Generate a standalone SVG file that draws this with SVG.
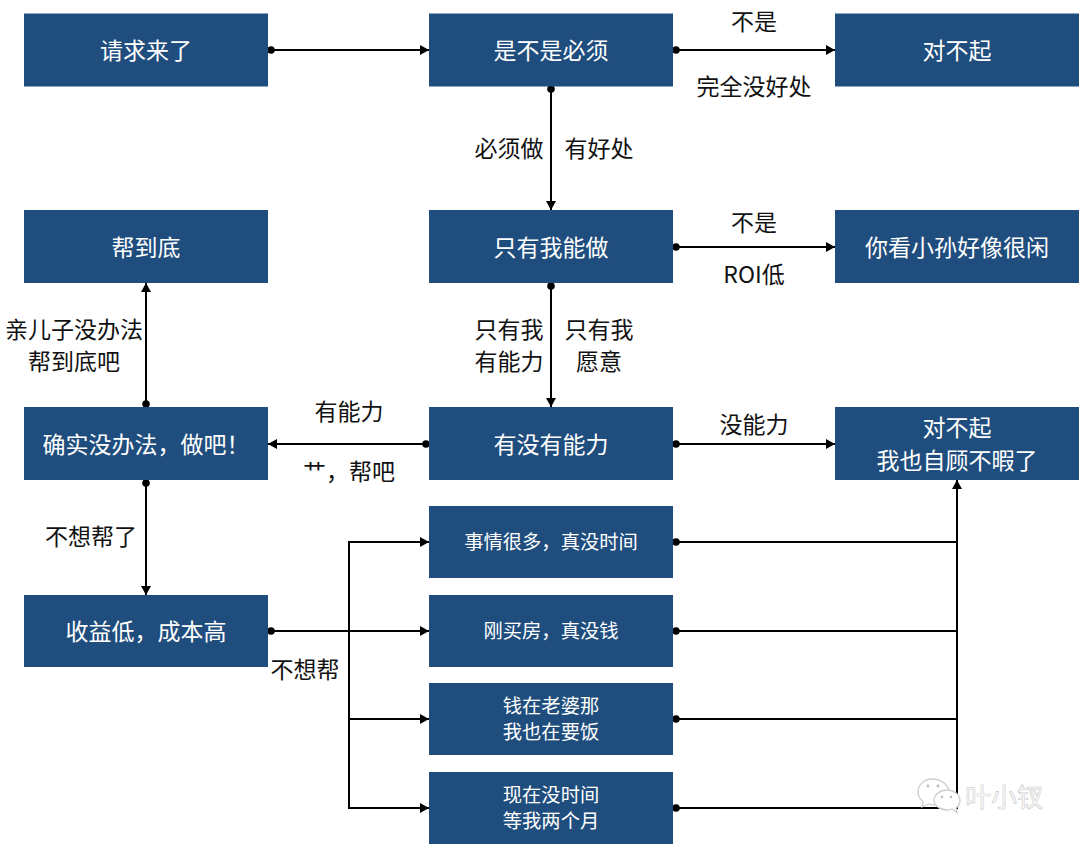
<svg xmlns="http://www.w3.org/2000/svg" width="1080" height="845" viewBox="0 0 1080 845">
<style>
text{font-family:"Noto Sans CJK SC","Liberation Sans",sans-serif;text-anchor:middle;dominant-baseline:central}
.n{fill:#1f4e7e}
.t{fill:#fff;font-size:23px}
.s{fill:#fff;font-size:19.3px}
.l{fill:#111;font-size:23px}
.c{fill:none;stroke:#000;stroke-width:2}
.d{fill:#000}
.w{fill:#fff;stroke:#cfcfcf;stroke-width:1.3}
.e{fill:#bdbdbd}
</style>
<defs>
<marker id="a" markerUnits="userSpaceOnUse" markerWidth="9" markerHeight="10" refX="9" refY="5" orient="auto"><path d="M0 0L9 5L0 10Z" fill="#000"/></marker>
</defs>
<rect width="1080" height="845" fill="#fff"/>
<g id="connectors">
<path class="c" marker-end="url(#a)" d="M271 50H429"/>
<path class="c" marker-end="url(#a)" d="M676 50H835"/>
<path class="c" marker-end="url(#a)" d="M551 89V210"/>
<path class="c" marker-end="url(#a)" d="M676 247H835"/>
<path class="c" marker-end="url(#a)" d="M551 286V407"/>
<path class="c" marker-end="url(#a)" d="M676 444H835"/>
<path class="c" marker-end="url(#a)" d="M426 444H268"/>
<path class="c" marker-end="url(#a)" d="M146 404V283"/>
<path class="c" marker-end="url(#a)" d="M146 483V595"/>
<path class="c" marker-end="url(#a)" d="M271 631H429"/>
<path class="c" marker-end="url(#a)" d="M349 631V542H429"/>
<path class="c" marker-end="url(#a)" d="M349 631V719H429"/>
<path class="c" marker-end="url(#a)" d="M349 631V808H429"/>
<path class="c" marker-end="url(#a)" d="M676 542H957V480"/>
<path class="c" d="M676 631H957"/>
<path class="c" d="M676 719H957"/>
<path class="c" d="M676 808H957V542"/>
<g class="d">
<circle cx="271" cy="50" r="3.8"/><circle cx="676" cy="50" r="3.8"/><circle cx="551" cy="89" r="3.8"/>
<circle cx="676" cy="247" r="3.8"/><circle cx="551" cy="286" r="3.8"/><circle cx="676" cy="444" r="3.8"/>
<circle cx="426" cy="444" r="3.8"/><circle cx="146" cy="404" r="3.8"/><circle cx="146" cy="483" r="3.8"/>
<circle cx="271" cy="631" r="3.8"/><circle cx="676" cy="542" r="3.8"/><circle cx="676" cy="631" r="3.8"/>
<circle cx="676" cy="719" r="3.8"/><circle cx="676" cy="808" r="3.8"/>
</g>
</g>
<g id="n1"><rect class="n" x="24" y="13.500" width="244" height="73"/><text class="t" x="146" y="49">请求来了</text></g>
<g id="n2"><rect class="n" x="429" y="13.500" width="244" height="73"/><text class="t" x="551" y="49">是不是必须</text></g>
<g id="n3"><rect class="n" x="835" y="13.500" width="244" height="73"/><text class="t" x="957" y="49">对不起</text></g>
<g id="n4"><rect class="n" x="24" y="210" width="244" height="73"/><text class="t" x="146" y="246">帮到底</text></g>
<g id="n5"><rect class="n" x="429" y="210" width="244" height="73"/><text class="t" x="551" y="246">只有我能做</text></g>
<g id="n6"><rect class="n" x="835" y="210" width="244" height="73"/><text class="t" x="957" y="246">你看小孙好像很闲</text></g>
<g id="n7"><rect class="n" x="24" y="407" width="244" height="73"/><text class="t" x="146" y="443">确实没办法，做吧！</text></g>
<g id="n8"><rect class="n" x="429" y="407" width="244" height="73"/><text class="t" x="551" y="443">有没有能力</text></g>
<g id="n9"><rect class="n" x="835" y="407" width="244" height="73"/><text class="t" x="957" y="426">对不起</text><text class="t" x="957" y="459">我也自顾不暇了</text></g>
<g id="n10"><rect class="n" x="429" y="506" width="244" height="72"/><text class="s" x="551" y="541">事情很多，真没时间</text></g>
<g id="n11"><rect class="n" x="24" y="595" width="244" height="72"/><text class="t" x="146" y="630">收益低，成本高</text></g>
<g id="n12"><rect class="n" x="429" y="595" width="244" height="72"/><text class="s" x="551" y="630">刚买房，真没钱</text></g>
<g id="n13"><rect class="n" x="429" y="683" width="244" height="72"/><text class="s" x="551" y="705">钱在老婆那</text><text class="s" x="551" y="731">我也在要饭</text></g>
<g id="n14"><rect class="n" x="429" y="772" width="244" height="72"/><text class="s" x="551" y="794">现在没时间</text><text class="s" x="551" y="820">等我两个月</text></g>
<g id="labels">
<text class="l" x="754" y="20">不是</text>
<text class="l" x="754" y="85">完全没好处</text>
<text class="l" x="509" y="147">必须做</text>
<text class="l" x="599" y="147">有好处</text>
<text class="l" x="754" y="221">不是</text>
<text class="l" x="754" y="273">ROI低</text>
<text class="l" x="509" y="328">只有我</text>
<text class="l" x="509" y="360">有能力</text>
<text class="l" x="599" y="328">只有我</text>
<text class="l" x="599" y="360">愿意</text>
<text class="l" x="74" y="328">亲儿子没办法</text>
<text class="l" x="74" y="360">帮到底吧</text>
<text class="l" x="349" y="410">有能力</text>
<text class="l" x="349" y="470">艹，帮吧</text>
<text class="l" x="754" y="423">没能力</text>
<text class="l" x="91" y="535">不想帮了</text>
<text class="l" x="305" y="668">不想帮</text>
</g>
<g id="watermark">
<path class="w" d="M932 779c-8 0-14 6-14 13 0 4 2 7 5 10l-1 5 7-3c2 1 3 1 5 1 8 0 15-6 15-13s-8-13-17-13z"/>
<path class="w" d="M947 790c-7 0-13 5-13 10s6 10 13 10c2 0 3 0 5-1l5 4-1-5c3-2 4-5 4-8 0-5-6-10-13-10z"/>
<circle class="e" cx="928" cy="786" r="1.400"/><circle class="e" cx="938" cy="786" r="1.400"/><circle class="e" cx="942" cy="797" r="1.300"/><circle class="e" cx="951" cy="797" r="1.300"/>
<text x="1004" y="795" style="font-size:26px;fill:#fff;stroke:#c8c8c8;stroke-width:.6">叶小钗</text>
</g>
</svg>
